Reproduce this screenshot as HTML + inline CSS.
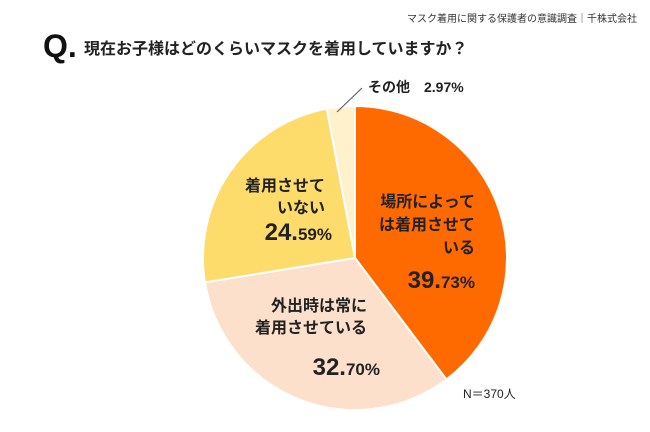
<!DOCTYPE html>
<html><head><meta charset="utf-8"><style>
body{margin:0;width:650px;height:427px;background:#fff;overflow:hidden;font-family:"Liberation Sans","Noto Sans CJK JP",sans-serif}
svg text{font-family:"Liberation Sans","Noto Sans CJK JP",sans-serif}
</style></head><body>
<svg id="chart" width="650" height="427" viewBox="0 0 650 427">
<text x="637" y="22" text-anchor="end" font-size="10" fill="#333">マスク着用に関する保護者の意識調査｜千株式会社</text>
<text x="43" y="57" font-size="32" font-weight="bold" fill="#111">Q.</text>
<text x="84" y="54" font-size="16" font-weight="bold" fill="#222">現在お子様はどのくらいマスクを着用していますか？</text>
<g id="slices"></g>
<line x1="337" y1="112" x2="362" y2="88" stroke="#555" stroke-width="1"/>
<text x="368" y="92" font-size="14" font-weight="bold" fill="#222">その他　2.97%</text>
<g font-weight="bold" fill="#222">
<text x="475" y="207" text-anchor="end" font-size="16">場所によって</text>
<text x="475" y="230" text-anchor="end" font-size="16">は着用させて</text>
<text x="475" y="253" text-anchor="end" font-size="16">いる</text>
<text x="475" y="288" text-anchor="end"><tspan font-size="24">39.</tspan><tspan font-size="17">73%</tspan></text>
<text x="367" y="311" text-anchor="end" font-size="16">外出時は常に</text>
<text x="367" y="333" text-anchor="end" font-size="16">着用させている</text>
<text x="380" y="375" text-anchor="end"><tspan font-size="24">32.</tspan><tspan font-size="17">70%</tspan></text>
<text x="325" y="191" text-anchor="end" font-size="16">着用させて</text>
<text x="325" y="213" text-anchor="end" font-size="16">いない</text>
<text x="332" y="240" text-anchor="end"><tspan font-size="24">24.</tspan><tspan font-size="17">59%</tspan></text>
</g>
<text x="463" y="398" font-size="12" fill="#222">N＝370人</text>
</svg>
<script>
const categories=["場所によっては着用させている","外出時は常に着用させている","着用させていない","その他"];
const values=[39.73,32.70,24.59,2.97];
const colors=["#ff6a00","#fde0cb","#fddc6c","#fff1cc"];
const cx=355,cy=258,r=152;
const g=document.getElementById('slices');
const total=values.reduce((a,b)=>a+b,0);
let a0=0;
values.forEach((v,i)=>{
  const a1=a0+v/total*2*Math.PI;
  const x0=cx+r*Math.sin(a0),y0=cy-r*Math.cos(a0),x1=cx+r*Math.sin(a1),y1=cy-r*Math.cos(a1);
  const p=document.createElementNS('http://www.w3.org/2000/svg','path');
  p.setAttribute('d',`M${cx},${cy}L${x0},${y0}A${r},${r} 0 ${a1-a0>Math.PI?1:0} 1 ${x1},${y1}Z`);
  p.setAttribute('fill',colors[i]);p.setAttribute('stroke','#fff');p.setAttribute('stroke-width','2');
  
  
  g.appendChild(p);a0=a1;
});
</script>
</body></html>
